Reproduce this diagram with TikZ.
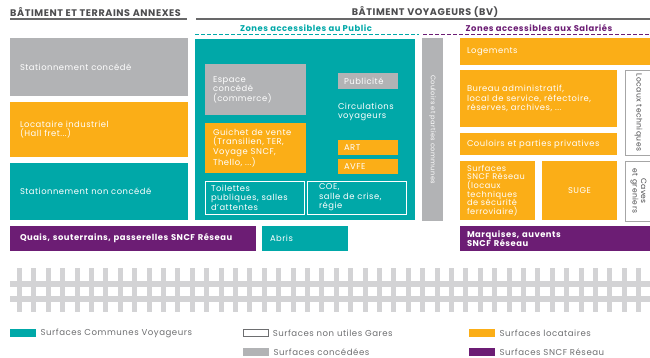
\documentclass[tikz,border=0pt]{standalone}
\usepackage{fontspec}
\setmainfont{Poppins}[LetterSpace=6.0]
\usepackage{tikz}

\definecolor{commteal}{HTML}{00A8A8}
\definecolor{locorange}{HTML}{FBAE17}
\definecolor{concgray}{HTML}{B2B3B5}
\definecolor{resviolet}{HTML}{6C1D74}
\definecolor{railgray}{HTML}{D3D3D5}
\definecolor{headgray}{HTML}{4D4D4F}
\definecolor{leggray}{HTML}{6D6E70}

\newcommand{\boxfont}{\fontsize{8.4}{9.4}\selectfont}

\tikzset{
  box/.style={anchor=north west, inner xsep=8pt, inner ysep=0pt, outer sep=0pt,
    text=white, font=\boxfont, align=left},
  conc/.style={box, fill=concgray},
  loca/.style={box, fill=locorange},
  comm/.style={box, fill=commteal},
  resx/.style={box, fill=resviolet, font=\boxfont\bfseries},
  nonut/.style={box, draw=white, line width=0.8pt},
  nonutg/.style={box, fill=white, draw=gray!70, line width=0.6pt, text=headgray},
  rule/.style={draw=headgray!85, line width=2pt},
  zonehead/.style={font=\fontsize{8.4}{9}\selectfont\bfseries, inner sep=0pt},
  bighead/.style={zonehead, font=\fontsize{9.6}{10}\selectfont\bfseries, text=headgray},
  swatch/.style={anchor=west, minimum width=26pt, minimum height=8pt, inner sep=0pt},
  legtext/.style={anchor=west, text=leggray, font=\fontsize{8.6}{9}\selectfont, inner sep=0pt},
}

\begin{document}
\begin{tikzpicture}[x=1pt,y=-1pt]
  \useasboundingbox (0,0) rectangle (650,357);
  % HEADERS
  \node[bighead, anchor=west] (hannex) at (10,12) {BÂTIMENT ET TERRAINS ANNEXES};
  \node[bighead] (hbv) at (425,12) {BÂTIMENT VOYAGEURS (BV)};
  \draw[rule] (10,19) -- (187,19);
  \draw[rule] (196,19) -- (650,19);
  \node[zonehead, text=commteal] (hpublic) at (306,28.5) {Zones accessibles au Public};
  \node[zonehead, text=resviolet] (hsal) at (539,28.5) {Zones accessibles aux Salariés};
  \draw[commteal, line width=1.4pt, dash pattern=on 4pt off 2pt] (195,34.5) -- (419,34.5);
  \draw[resviolet, line width=1.4pt, dash pattern=on 4pt off 2pt] (423,34.5) -- (650,34.5);

  % BATIMENT ET TERRAINS ANNEXES
  \node[conc, inner xsep=10pt, text width=158pt, minimum height=58pt] (stc) at (10,38) {Stationnement concédé};
  \node[loca, inner xsep=10pt, text width=158pt, minimum height=55pt] (locind) at (10,102) {Locataire industriel\\(Hall fret...)};
  \node[comm, inner xsep=10pt, text width=158pt, minimum height=57pt] (stnc) at (10,163) {Stationnement non concédé};
  \node[resx, inner xsep=10pt, text width=226pt, minimum height=25pt] (quais) at (10,226) {Quais, souterrains, passerelles SNCF Réseau};

  % ZONES ACCESSIBLES AU PUBLIC
  \node[comm, minimum width=220pt, minimum height=181pt] (public) at (195,39) {};
  \node[conc, text width=85pt, minimum height=51pt] (espace) at (205,64) {Espace\\concédé\\(commerce)};
  \node[conc, inner xsep=6pt, text width=48pt, minimum height=16pt] (pub) at (338,73) {Publicité};
  \node[box, inner xsep=0pt, anchor=west] (circ) at (338,112) {Circulations\\voyageurs};
  \node[loca, text width=85pt, minimum height=50pt] (guichet) at (205,123) {Guichet de vente\\(Transilien, TER,\\Voyage SNCF,\\Thello, ...)};
  \node[loca, inner xsep=6pt, text width=48pt, minimum height=15pt] (art) at (338,140) {ART};
  \node[loca, inner xsep=6pt, text width=48pt, minimum height=15pt] (avfe) at (338,159) {AVFE};
  \node[nonut, inner xsep=6pt, text width=87pt, minimum height=33pt] (toil) at (205,181) {Toilettes\\publiques, salles\\d'attentes};
  \node[nonut, inner xsep=12pt, text width=75pt, minimum height=33pt] (coe) at (307,181) {COE,\\salle de crise,\\régie};
  \node[comm, text width=70pt, minimum height=25pt] (abris) at (262,226) {Abris};

  % COULOIRS COMMUNS
  \node[conc, anchor=center, rotate=-90, align=center, inner xsep=0pt, font=\fontsize{6.6}{8}\selectfont,
    minimum width=183pt, minimum height=21pt] (coul) at (432.5,129.5) {Couloirs et parties communes};

  % ZONES ACCESSIBLES AUX SALARIES
  \node[loca, inner xsep=7pt, text width=178pt, minimum height=27pt] (loge) at (460,38) {Logements};
  \node[loca, inner xsep=7pt, text width=143pt, minimum height=57pt] (bureau) at (460,70) {Bureau administratif,\\local de service, réfectoire,\\réserves, archives, ...};
  \node[loca, inner xsep=7pt, text width=143pt, minimum height=22pt] (priv) at (460,133) {Couloirs et parties privatives};
  \node[loca, inner xsep=7pt, text width=61pt, minimum height=59pt,
    font=\fontsize{8.2}{8.7}\selectfont] (sncfr) at (460,161) {Surfaces\\SNCF Réseau\\(locaux\\techniques\\de sécurité\\ferroviaire)};
  \node[loca, align=center, inner xsep=0pt, text width=75pt, minimum height=59pt] (suge) at (542,161) {SUGE};
  \node[nonutg, anchor=center, rotate=-90, align=center, inner xsep=0pt, font=\fontsize{7.6}{8.6}\selectfont,
    minimum width=85pt, minimum height=27pt] (loctech) at (638.5,112.5) {Locaux techniques};
  \node[nonutg, anchor=center, rotate=-90, align=center, inner xsep=0pt, font=\fontsize{7.6}{8.6}\selectfont,
    minimum width=60pt, minimum height=27pt] (caves) at (638.5,191) {Caves\\et greniers};
  \node[resx, inner xsep=7pt, text width=178pt, minimum height=25pt] (marq) at (460,226) {Marquises, auvents\\SNCF Réseau};

  % VOIES
  \fill[railgray] (10,281) rectangle (650,287);
  \fill[railgray] (10,296) rectangle (650,302);
  \foreach \i in {0,...,44}
    \fill[railgray] ({17+14.4*\i},268) rectangle ++(5,44);

  % LEGENDE
  \node[swatch, fill=commteal] (lcomm) at (10,333) {};
  \node[legtext] (lcommt) at ([xshift=4pt]lcomm.east) {Surfaces Communes Voyageurs};
  \node[swatch, draw=leggray, line width=0.6pt, minimum width=25pt, minimum height=7pt] (lnon) at (243,333) {};
  \node[legtext] (lnont) at ([xshift=4pt]lnon.east) {Surfaces non utiles Gares};
  \node[swatch, fill=concgray] (lconc) at (243,352) {};
  \node[legtext] (lconct) at ([xshift=4pt]lconc.east) {Surfaces concédées};
  \node[swatch, fill=locorange] (lloc) at (469,333) {};
  \node[legtext] (llott) at ([xshift=4pt]lloc.east) {Surfaces locataires};
  \node[swatch, fill=resviolet] (lres) at (469,352) {};
  \node[legtext] (lrest) at ([xshift=4pt]lres.east) {Surfaces SNCF Réseau};
\end{tikzpicture}
\end{document}
